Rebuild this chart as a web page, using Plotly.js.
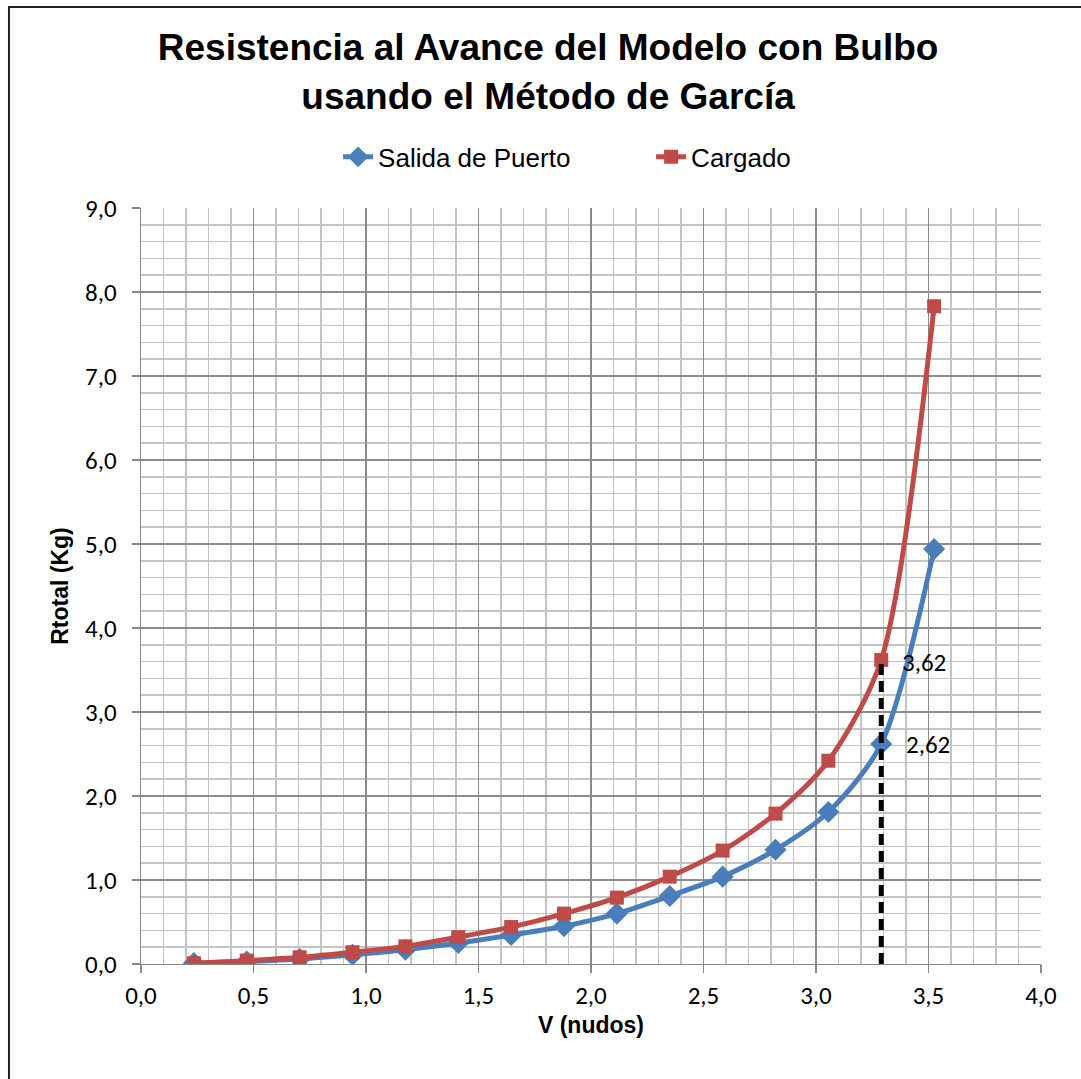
<!DOCTYPE html>
<html>
<head>
<meta charset="utf-8">
<script src="https://cdn.plot.ly/plotly-3.0.1.min.js"></script>
<style>
html,body{margin:0;padding:0;background:#fff;}
#chart{width:1081px;height:1079px;}
</style>
</head>
<body>
<div id="chart"></div>
<script>
const velocidad = [0.235, 0.47, 0.705, 0.94, 1.175, 1.41, 1.645, 1.88, 2.115, 2.35, 2.585, 2.82, 3.055, 3.29, 3.525];
const salidaPuerto = [0.01, 0.03, 0.06, 0.11, 0.17, 0.25, 0.345, 0.45, 0.60, 0.81, 1.04, 1.36, 1.81, 2.62, 4.94];
const cargado = [0.01, 0.04, 0.08, 0.14, 0.21, 0.32, 0.44, 0.60, 0.79, 1.04, 1.35, 1.79, 2.42, 3.62, 7.83];
const velMarcada = 3.29;
const valoresMarcados = [3.62, 2.62];
const etiquetasMarcadas = ["3,62", "2,62"];

const traces = [
  {
    x: velocidad, y: salidaPuerto, name: "Salida de Puerto",
    type: "scatter", mode: "lines+markers",
    line: {color: "#4A7EBB", width: 5, shape: "spline", smoothing: 0.8},
    marker: {symbol: "diamond", size: 17, color: "#4A7EBB"}
  },
  {
    x: velocidad, y: cargado, name: "Cargado",
    type: "scatter", mode: "lines+markers",
    line: {color: "#BE4B48", width: 5, shape: "spline", smoothing: 0.8},
    marker: {symbol: "square", size: 14, color: "#BE4B48"}
  },
  {
    x: [velMarcada, velMarcada], y: [0, valoresMarcados[0]],
    type: "scatter", mode: "lines", showlegend: false, hoverinfo: "skip",
    line: {color: "#000", width: 5, dash: "11px,6px"}
  }
];

const tickFont = {family: "Carlito, 'Open Sans', 'Liberation Sans', sans-serif", size: 25, color: "#000"};
const boldFont = {family: "'Liberation Sans', Arial, sans-serif", size: 23, color: "#000"};

const layout = {
  width: 1081, height: 1079,
  margin: {l: 141, r: 40, t: 208, b: 115},
  paper_bgcolor: "#fff", plot_bgcolor: "#fff",
  separators: ",.",
  title: {
    text: "<b>Resistencia al Avance del Modelo con Bulbo<br>usando el Método de García</b>",
    font: {family: "'Liberation Sans', Arial, sans-serif", size: 37, color: "#000"},
    x: 0.507, xanchor: "center", y: 0.944, yanchor: "top"
  },
  showlegend: true,
  legend: {
    orientation: "h", x: 0.219, xanchor: "left", y: 1.0675, yanchor: "middle",
    font: {family: "'Liberation Sans', Arial, sans-serif", size: 26, color: "#000"},
    traceorder: "normal", entrywidth: 268, entrywidthmode: "pixels"
  },
  xaxis: {
    range: [0, 4], dtick: 0.5, tick0: 0, tickformat: ".1f",
    showgrid: true, gridcolor: "#8c8c8c", gridwidth: 1.3,
    minor: {dtick: 0.1, showgrid: true, gridcolor: "#c4c4c4", gridwidth: 1.5},
    ticks: "outside", ticklen: 8, tickcolor: "#888", tickwidth: 1.3,
    ticklabelstandoff: 1,
    showline: true, linecolor: "#888", linewidth: 1.3, zeroline: false,
    tickfont: tickFont,
    title: {text: "<b>V (nudos)</b>", font: boldFont, standoff: 6}
  },
  yaxis: {
    range: [0, 9], dtick: 1, tick0: 0, tickformat: ".1f",
    showgrid: true, gridcolor: "#8c8c8c", gridwidth: 1.3,
    minor: {dtick: 0.2, showgrid: true, gridcolor: "#c4c4c4", gridwidth: 1.5},
    ticks: "outside", ticklen: 8, tickcolor: "#888", tickwidth: 1.3,
    ticklabelstandoff: 10,
    showline: true, linecolor: "#888", linewidth: 1.3, zeroline: false,
    tickfont: tickFont,
    title: {text: "<b>Rtotal (Kg)</b>", font: boldFont, standoff: 10}
  },
  annotations: [
    {x: velMarcada, y: valoresMarcados[0], text: etiquetasMarcadas[0], showarrow: false,
     xanchor: "left", yanchor: "middle", xshift: 19, yshift: -3, font: tickFont},
    {x: velMarcada, y: valoresMarcados[1], text: etiquetasMarcadas[1], showarrow: false,
     xanchor: "left", yanchor: "middle", xshift: 23, yshift: -1, font: tickFont}
  ],
  shapes: [
    {type: "rect", xref: "paper", yref: "paper",
     x0: -0.1467, x1: 1.06, y0: -0.17, y1: 1.266,
     line: {color: "#222", width: 2}, fillcolor: "rgba(0,0,0,0)", layer: "below"}
  ]
};

Plotly.newPlot("chart", traces, layout, {displayModeBar: false, staticPlot: true});
</script>
</body>
</html>
